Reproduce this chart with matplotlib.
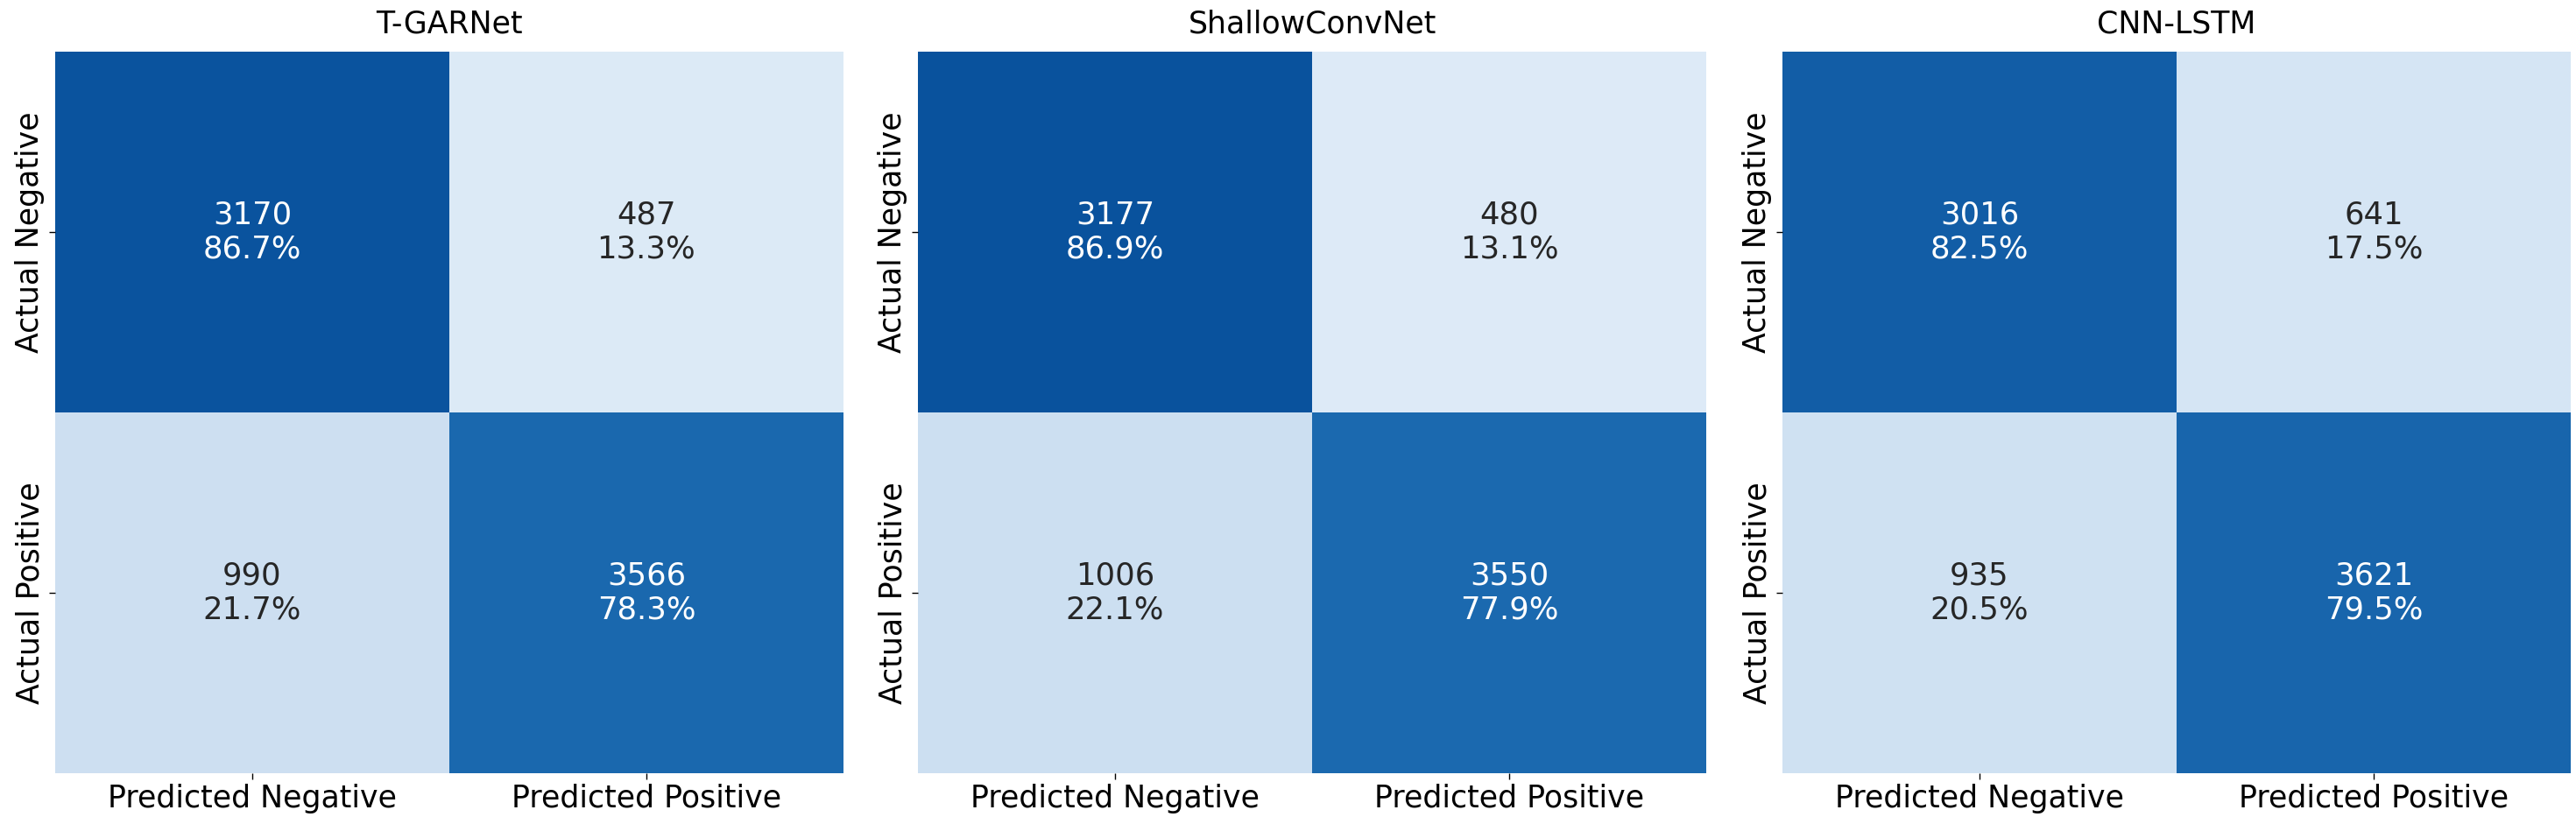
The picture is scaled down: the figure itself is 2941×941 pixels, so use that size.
import numpy as np
import matplotlib
matplotlib.use("Agg")
import matplotlib.pyplot as plt
import seaborn as sns

models = ["T-GARNet", "ShallowConvNet", "CNN-LSTM"]
x_labels = ["Predicted Negative", "Predicted Positive"]
y_labels = ["Actual Negative", "Actual Positive"]

cm_tgarnet = [[3170, 487], [990, 3566]]
cm_shallow = [[3177, 480], [1006, 3550]]
cm_cnnlstm = [[3016, 641], [935, 3621]]
matrices = [cm_tgarnet, cm_shallow, cm_cnnlstm]

fig = plt.figure(figsize=(29.41, 9.41), dpi=100)
# axes boxes (left, bottom, width, height) in figure fraction
lefts = [0.02142, 0.35634, 0.69194]
bottom, width, height = 0.06164, 0.30602, 0.87566

for name, cm, left in zip(models, matrices, lefts):
    ax = fig.add_axes([left, bottom, width, height])
    cm = np.array(cm)
    norm = cm / cm.sum(axis=1, keepdims=True)
    annot = np.array([[f"{cm[i, j]}\n{norm[i, j] * 100:.1f}%" for j in range(2)]
                      for i in range(2)])
    sns.heatmap(norm, annot=annot, fmt="", cmap="Blues", vmin=0, vmax=1,
                cbar=False, ax=ax, annot_kws={"fontsize": 25.5},
                xticklabels=x_labels, yticklabels=y_labels)
    ax.set_title(name, fontsize=25, pad=15.5)
    ax.tick_params(axis="both", labelsize=25, length=5, width=1)
    ax.set_yticklabels(y_labels, rotation=90, va="center")
    ax.set_xticklabels(x_labels, rotation=0)

fig.savefig("out.png", dpi=100)
